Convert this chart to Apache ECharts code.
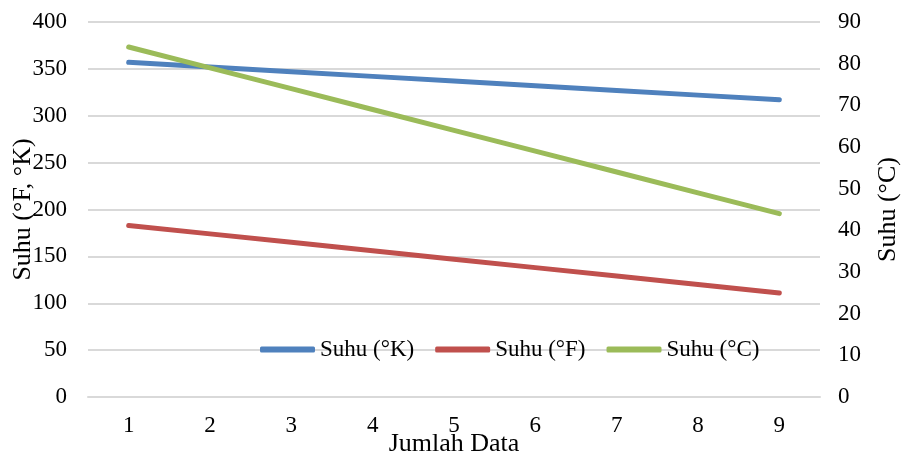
<!DOCTYPE html>
<html><head><meta charset="utf-8">
<script src="https://cdn.jsdelivr.net/npm/echarts@6/dist/echarts.min.js"></script>
<style>html,body{margin:0;padding:0;background:#fff}#c{width:901px;height:454px}</style>
</head><body><div id="c"></div>
<script>
const categories = ['1','2','3','4','5','6','7','8','9'];
const suhuK = [357, 352, 347, 342, 337, 332, 327, 322, 317];
const suhuF = [183, 174, 165, 156, 147, 138, 129, 120, 111];
const suhuC = [84, 79, 74, 69, 64, 59, 54, 49, 44];

const font = 'Liberation Serif';
const chart = echarts.init(document.getElementById('c'));
chart.setOption({
  animation: false,
  textStyle: {fontFamily: font},
  grid: {left: 88, right: 81, top: 22, bottom: 57, containLabel: false, outerBoundsMode: 'none'},
  legend: {
    left: 260, top: 338, padding: 0, itemWidth: 55, itemHeight: 6, itemGap: 21,
    textStyle: {fontFamily: font, fontSize: 23, color: '#000'},
    icon: 'roundRect',
    data: ['Suhu (°K)', 'Suhu (°F)', 'Suhu (°C)']
  },
  xAxis: {
    type: 'category', data: categories, boundaryGap: true,
    name: 'Jumlah Data', nameLocation: 'middle', nameGap: 34, nameMoveOverlap: false,
    nameTextStyle: {fontFamily: font, fontSize: 26, color: '#000'},
    axisLine: {show: true, lineStyle: {color: '#d9d9d9', width: 2}},
    axisTick: {show: false},
    axisLabel: {fontFamily: font, fontSize: 23, color: '#000', margin: 17}
  },
  yAxis: [{
    type: 'value', min: 0, max: 400, interval: 50,
    name: 'Suhu (°F, °K)', nameLocation: 'middle', nameGap: 52, nameMoveOverlap: false,
    nameTextStyle: {fontFamily: font, fontSize: 26, color: '#000'},
    axisLine: {show: false}, axisTick: {show: false},
    axisLabel: {fontFamily: font, fontSize: 23, color: '#000', margin: 21},
    splitLine: {lineStyle: {color: '#d9d9d9', width: 2}}
  }, {
    type: 'value', min: 0, max: 90, interval: 10, position: 'right',
    name: 'Suhu (°C)', nameLocation: 'middle', nameGap: 55, nameMoveOverlap: false,
    nameTextStyle: {fontFamily: font, fontSize: 26, color: '#000'},
    axisLine: {show: false}, axisTick: {show: false},
    axisLabel: {fontFamily: font, fontSize: 23, color: '#000', margin: 18},
    splitLine: {show: false}
  }],
  series: [
    {name: 'Suhu (°K)', type: 'line', data: suhuK, yAxisIndex: 0, showSymbol: false,
     lineStyle: {width: 5, color: '#4F81BD', cap: 'round'}, itemStyle: {color: '#4F81BD'}},
    {name: 'Suhu (°F)', type: 'line', data: suhuF, yAxisIndex: 0, showSymbol: false,
     lineStyle: {width: 5, color: '#C0504D', cap: 'round'}, itemStyle: {color: '#C0504D'}},
    {name: 'Suhu (°C)', type: 'line', data: suhuC, yAxisIndex: 1, showSymbol: false,
     lineStyle: {width: 5, color: '#9BBB59', cap: 'round'}, itemStyle: {color: '#9BBB59'}}
  ]
});
</script></body></html>
